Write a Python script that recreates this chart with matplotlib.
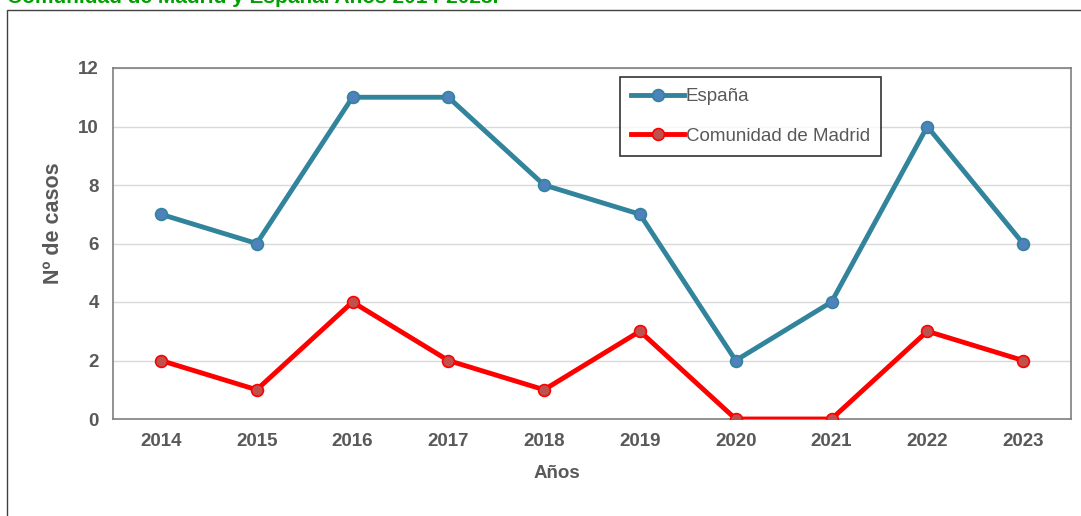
import matplotlib.pyplot as plt
from matplotlib.patches import Rectangle

years = ["2014", "2015", "2016", "2017", "2018", "2019", "2020", "2021", "2022", "2023"]
espana = [7, 6, 11, 11, 8, 7, 2, 4, 10, 6]
madrid = [2, 1, 4, 2, 1, 3, 0, 0, 3, 2]
title = "Comunidad de Madrid y España. Años 2014-2023."

plt.rcParams['font.family'] = ['Liberation Sans', 'DejaVu Sans']
W, H = 1081, 516
fig = plt.figure(figsize=(W / 100, H / 100), dpi=100)

# clipped title at the very top (only its lower part is visible, as in the reference)
fig.text(7 / W, 1 - 3 / H, title, color='#00A000', fontsize=15, fontweight='bold',
         ha='left', va='baseline')
# outer chart frame
fig.patches.append(Rectangle((7 / W, -0.1), 1.2, 1 - 10 / H + 0.1, transform=fig.transFigure,
                             fill=False, edgecolor='#404040', linewidth=1.0))

ax = fig.add_axes([113 / W, 1 - 419 / H, (1071 - 113) / W, (419 - 68) / H])
x = range(len(years))
ax.plot(x, espana, color='#31849B', linewidth=3.5, marker='o', markersize=8.5,
        markerfacecolor='#4F81BD', markeredgecolor='#31849B', markeredgewidth=1.2,
        label='España', zorder=3)
ax.plot(x, madrid, color='#FF0000', linewidth=3.5, marker='o', markersize=8.5,
        markerfacecolor='#C0504D', markeredgecolor='#FF0000', markeredgewidth=1.2,
        label='Comunidad de Madrid', zorder=3)

ax.set_xlim(-0.5, len(years) - 0.5)
ax.set_ylim(0, 12)
ax.set_yticks(range(0, 13, 2))
ax.set_xticks(list(x))
ax.set_xticklabels(years)
ax.grid(axis='y', color='#D9D9D9', linewidth=1)
ax.set_axisbelow(True)
for s in ax.spines.values():
    s.set_color('#7F7F7F')
    s.set_linewidth(1.2)
ax.tick_params(length=0, labelsize=13.5, labelcolor='#595959', pad=10)
for lab in ax.get_xticklabels() + ax.get_yticklabels():
    lab.set_fontweight('bold')
ax.set_ylabel('Nº de casos', fontsize=15.5, fontweight='bold', color='#595959')
ax.yaxis.set_label_coords((64 - 113) / (1071 - 113), (419 - 223) / (419 - 68))
ax.set_xlabel('Años', fontsize=13.5, fontweight='bold', color='#595959')
ax.xaxis.set_label_coords((557 - 113) / (1071 - 113), (419 - 465) / (419 - 68))

leg = ax.legend(loc='upper left', bbox_to_anchor=((620 - 113) / (1071 - 113), (419 - 77) / (419 - 68)),
                frameon=True, fancybox=False, fontsize=13.5, labelspacing=1.2,
                handlelength=2.8, handletextpad=0.1, borderpad=0.6, borderaxespad=0)
leg.get_frame().set_edgecolor('black')
leg.get_frame().set_linewidth(1.2)
for t in leg.get_texts():
    t.set_color('#595959')

fig.savefig('out.png', dpi=100)
